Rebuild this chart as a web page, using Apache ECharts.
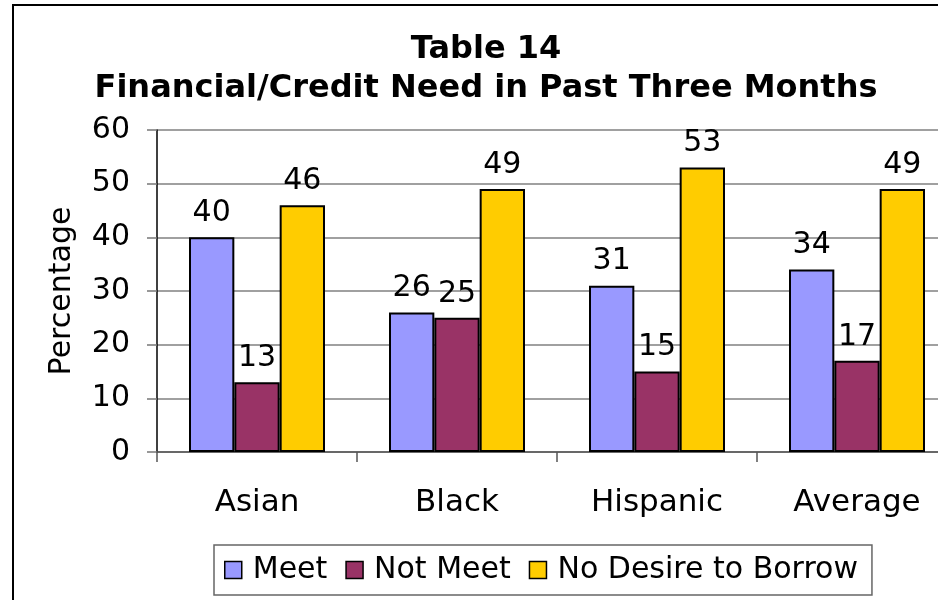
<!DOCTYPE html>
<html>
<head>
<meta charset="utf-8">
<script src="https://cdn.jsdelivr.net/npm/echarts@6/dist/echarts.min.js"></script>
<style>
  html, body { margin: 0; padding: 0; background: #fff; overflow: hidden; }
  #chart { width: 972px; height: 600px; }
</style>
</head>
<body>
<div id="chart"></div>
<script>
// Survey groups along the x axis
const categories = ['Asian', 'Black', 'Hispanic', 'Average'];

// Share of respondents (%) per answer
const meet = [40, 26, 31, 34];
const notMeet = [13, 25, 15, 17];
const noDesire = [46, 49, 53, 49];

const seriesNames = ['Meet', 'Not Meet', 'No Desire to Borrow'];
const seriesColors = ['#9999FF', '#993366', '#FFCC00'];

const titleLines = ['Table 14', 'Financial/Credit Need in Past Three Months'];
const yAxisTitle = 'Percentage';

const FONT = 'DejaVu Sans, Verdana, sans-serif';

const chart = echarts.init(document.getElementById('chart'), null, { renderer: 'canvas' });

function barSeries(name, data, color) {
  return {
    name: name,
    type: 'bar',
    data: data,
    barGap: '0%',
    barCategoryGap: '32%',
    itemStyle: { color: color, borderColor: '#000', borderWidth: 2 },
    label: {
      show: true,
      position: 'top',
      distance: 9,
      fontFamily: FONT,
      fontSize: 30,
      color: '#000'
    },
    emphasis: { disabled: true }
  };
}

chart.setOption({
  animation: false,
  backgroundColor: '#fff',
  graphic: [{
    type: 'rect',
    shape: { x: 13, y: 5, width: 1100, height: 700 },
    style: { fill: 'none', stroke: '#000', lineWidth: 2 },
    silent: true,
    z: 100
  }],
  title: {
    text: titleLines.join('\n'),
    left: 'center',
    top: 25,
    textStyle: {
      fontFamily: FONT,
      fontWeight: 'bold',
      fontSize: 32,
      lineHeight: 39,
      color: '#000'
    }
  },
  legend: {
    data: seriesNames,
    left: 214,
    top: 545,
    orient: 'horizontal',
    icon: 'rect',
    itemWidth: 17,
    itemHeight: 17,
    itemGap: 18,
    padding: [10, 14, 10, 10],
    borderColor: '#666',
    borderWidth: 1.5,
    itemStyle: { borderColor: '#000', borderWidth: 1.5 },
    textStyle: {
      fontFamily: FONT,
      fontSize: 30,
      color: '#000',
      padding: [0, 0, 0, 6]
    }
  },
  grid: { left: 157, right: 15, top: 130, bottom: 148, containLabel: false },
  xAxis: {
    type: 'category',
    data: categories,
    boundaryGap: true,
    axisLine: { show: true, lineStyle: { color: '#555', width: 1.5 } },
    axisTick: { show: true, length: 10, lineStyle: { color: '#555', width: 1.5 } },
    axisLabel: {
      fontFamily: FONT,
      fontSize: 31,
      color: '#000',
      margin: 35
    },
    splitLine: { show: false }
  },
  yAxis: {
    type: 'value',
    min: 0,
    max: 60,
    interval: 10,
    name: yAxisTitle,
    nameLocation: 'middle',
    nameGap: 80,
    nameTextStyle: { fontFamily: FONT, fontSize: 30, color: '#000' },
    axisLine: { show: true, lineStyle: { color: '#000', width: 1.5 } },
    axisTick: { show: true, length: 10, lineStyle: { color: '#777', width: 1.5 } },
    axisLabel: {
      fontFamily: FONT,
      fontSize: 30,
      color: '#000',
      margin: 27
    },
    splitLine: { show: true, lineStyle: { color: '#808080', width: 1.5 } }
  },
  series: [
    barSeries(seriesNames[0], meet, seriesColors[0]),
    barSeries(seriesNames[1], notMeet, seriesColors[1]),
    barSeries(seriesNames[2], noDesire, seriesColors[2])
  ]
});
</script>
</body>
</html>
